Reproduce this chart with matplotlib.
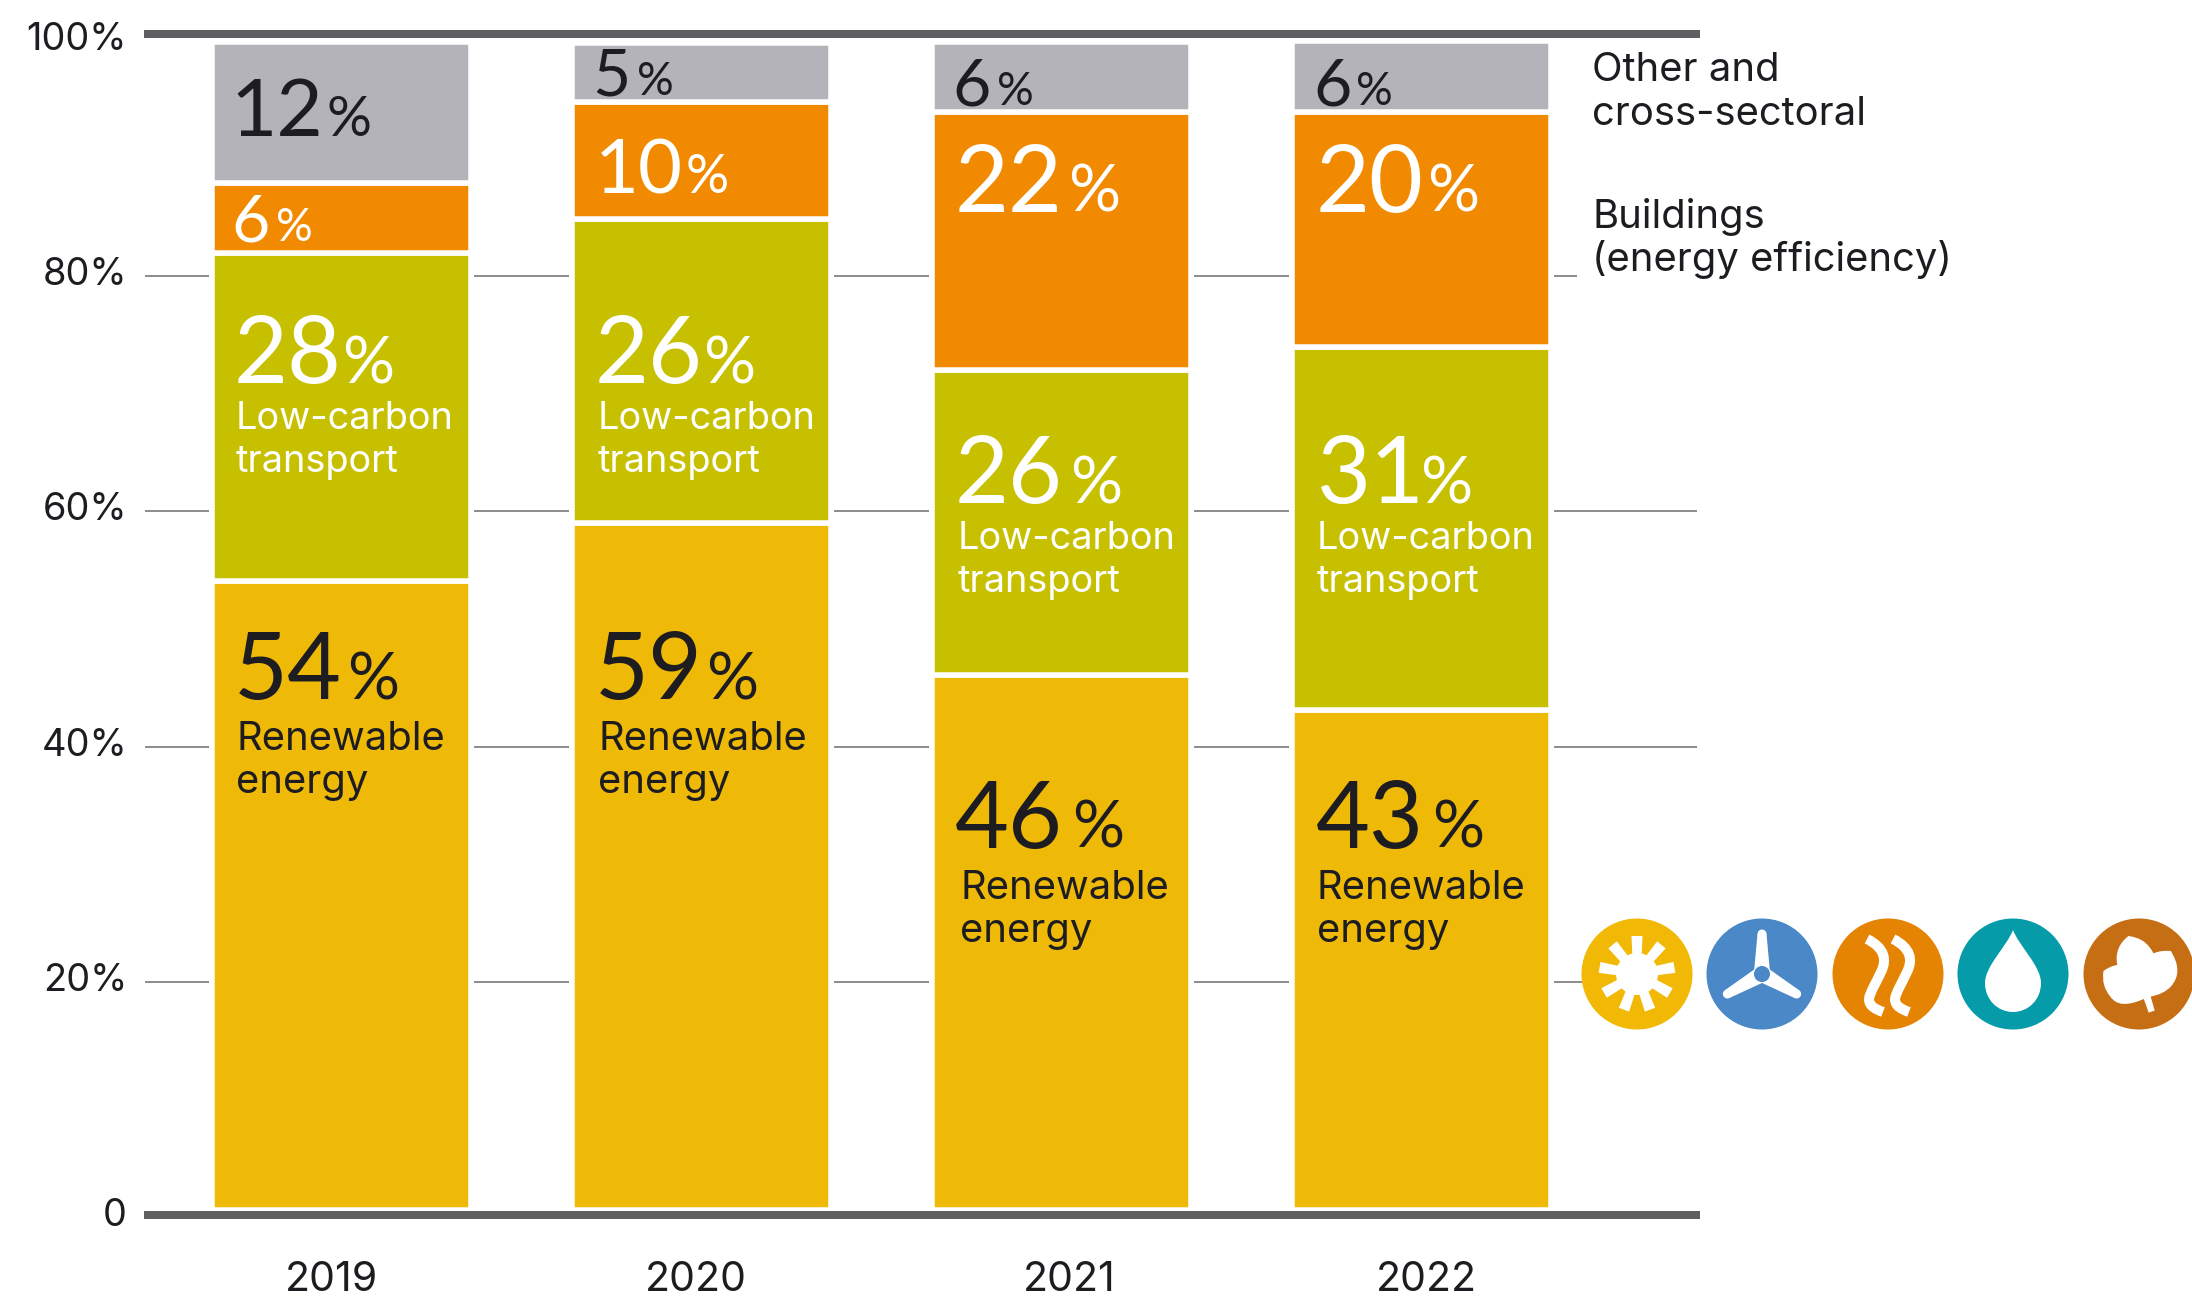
import numpy as np
import matplotlib
matplotlib.use('Agg')
import matplotlib.pyplot as plt
from matplotlib.patches import Circle, Polygon, PathPatch
from matplotlib.path import Path
from matplotlib.transforms import ScaledTranslation

# Data: segment heights, labels as printed
years = ['2019', '2020', '2021', '2022']
renewable = [53.5, 58.4, 45.5, 42.5]
transport = [27.9, 25.9, 25.9, 30.9]
buildings = [5.95, 9.95, 22.0, 20.0]
other = [12.0, 5.0, 5.95, 6.0]

renewable_labels = ['54', '59', '46', '43']
transport_labels = ['28', '26', '26', '31']
buildings_labels = ['6', '10', '22', '20']
other_labels = ['12', '5', '6', '6']

y_ticks = [0, 20, 40, 60, 80, 100]
y_tick_labels = ['0', '20%', '40%', '60%', '80%', '100%']

# Colours
YELLOW = '#EFB908'
GREEN = '#C7C000'
ORANGE = '#F18A00'
GREY = '#B5B3BA'
LINE = '#5F5F61'
INK = '#1D1C20'

W, H = 2192, 1297
PX = 0.72  # px to pt at dpi 100
plt.rcParams['font.family'] = ['Inter', 'DejaVu Sans']

fig = plt.figure(figsize=(W / 100, H / 100), dpi=100)

# Main axes: 0 sits at y=1217 px, 11.76 px per percent
ax_left, ax_right, ax_bottom, ax_top = 144, 1700, 1217, 34
ax = fig.add_axes([ax_left / W, 1 - ax_bottom / H, (ax_right - ax_left) / W, (ax_bottom - ax_top) / H])
ax.set_xlim((ax_left - 341.5) / 360, (ax_right - 341.5) / 360)
ax.set_ylim(0, (ax_bottom - ax_top) / 11.76)
ax.patch.set_alpha(0)
for s in ax.spines.values():
    s.set_visible(False)

x = np.arange(4)
bar_w = 258.5 / 360
base = np.full(4, 0.6)
for vals, col in [(renewable, YELLOW), (transport, GREEN), (buildings, ORANGE), (other, GREY)]:
    ax.bar(x, vals, bottom=base, width=bar_w, color=col, edgecolor='white', linewidth=5.5 * PX, zorder=3)
    base = base + np.array(vals)

# Top and bottom rules
ax.axhline(0.17, color=LINE, lw=8 * PX, clip_on=False, zorder=4, solid_capstyle='butt')
ax.axhline(100.6, color=LINE, lw=8 * PX, clip_on=False, zorder=4, solid_capstyle='butt')

# Thin grid pieces only in the gaps between the bars
gap = 6 / 360
for t in y_ticks[1:-1]:
    ax.hlines(t, (145 - 341.5) / 360, -0.352 - gap, color='#6A6A6A', lw=1.5 * PX, zorder=1)
    for i in range(3):
        ax.hlines(t, i + 0.352 + gap, i + 1 - 0.352 - gap, color='#6A6A6A', lw=1.5 * PX, zorder=1)
    if t == 80:
        right = (1577 - 341.5) / 360
    elif t == 20:
        right = (1673 - 341.5) / 360
    else:
        right = (1697 - 341.5) / 360
    ax.hlines(t, 3 + 0.352 + gap, right, color='#6A6A6A', lw=1.5 * PX, zorder=1)

ax.set_yticks(y_ticks, y_tick_labels, fontsize=38 * PX, color=INK)
ax.tick_params(axis='y', length=0, pad=17 * PX)
# labels sit a little above their grid lines
shift = ScaledTranslation(0, 5 / 100, fig.dpi_scale_trans)
for lab in ax.get_yticklabels():
    lab.set_transform(lab.get_transform() + shift)

year_x = [331, 696, 1069, 1426]
ax.set_xticks([(v - 341.5) / 360 for v in year_x], years, fontsize=41 * PX, color=INK)
ax.tick_params(axis='x', length=0, pad=44 * PX)

# Pixel overlay for the hand placed labels and the icons
pix = fig.add_axes([0, 0, 1, 1])
pix.set_xlim(0, W)
pix.set_ylim(H, 0)
pix.axis('off')
pix.patch.set_alpha(0)


def number(xp, yp, txt, col, size, psize, g=8):
    t = pix.text(xp, yp, txt, color=col, fontsize=size * PX, family=['Lato', 'DejaVu Sans'], va='baseline')
    pix.annotate('%', xy=(1, yp), xycoords=(t, 'data'), xytext=(g, 0), textcoords='offset pixels',
                 color=col, fontsize=psize * PX, family=['Lato', 'DejaVu Sans'], va='baseline')


BIG, BIG_P = 93, 65
SMALL, SMALL_P = 66, 46
digit_x = [234, 595, 955, 1316]

other_y = [136, 95, 105, 105]
other_size = [(80, 56), (SMALL, SMALL_P), (SMALL, SMALL_P), (SMALL, SMALL_P)]
other_dx = [-4, -3, -3, -3]
other_g = [4, 7, 7, 5]

buildings_y = [241, 193, 212, 212]
buildings_size = [(SMALL, SMALL_P), (76, 54), (BIG, BIG_P), (BIG, BIG_P)]
buildings_dx = [-3, 0, 0, 0]
buildings_g = [7, 3, 5, 3]

transport_y = [383, 383, 503, 503]
transport_g = [0, 0, 7, -4]

renewable_y = [699, 699, 848, 848]
renewable_g = [5, 3, 9, 8]

for i in range(4):
    number(digit_x[i] + other_dx[i], other_y[i], other_labels[i], INK, *other_size[i], g=other_g[i])
    number(digit_x[i] + buildings_dx[i], buildings_y[i], buildings_labels[i], 'white', *buildings_size[i],
           g=buildings_g[i])
    number(digit_x[i], transport_y[i], transport_labels[i], 'white', BIG, BIG_P, g=transport_g[i])
    number(digit_x[i], renewable_y[i], renewable_labels[i], INK, BIG, BIG_P, g=renewable_g[i])

    # Category names inside the bars
    lx = [236, 598, 958, 1317][i]
    pix.text(lx, transport_y[i] + 46, 'Low-carbon', color='white', fontsize=38 * PX, va='baseline')
    pix.text(lx, transport_y[i] + 89, 'transport', color='white', fontsize=38 * PX, va='baseline')
    rx = [236, 598, 960, 1317][i]
    pix.text(rx, renewable_y[i] + 51, 'Renewable', color=INK, fontsize=40 * PX, va='baseline')
    pix.text(rx, renewable_y[i] + 94, 'energy', color=INK, fontsize=40 * PX, va='baseline')

# Right hand legend text
for yp, s in [(81, 'Other and'), (125, 'cross-sectoral'), (228, 'Buildings'), (271, '(energy efficiency)')]:
    pix.text(1592, yp, s, color=INK, fontsize=40 * PX, va='baseline')

# Icons
centres = [1637, 1762, 1888, 2013, 2139]
cy = 974
R = 55.5
icon_cols = ['#F1B805', '#4B88C7', '#E58403', '#059BA8', '#C56E13']
for cx, c in zip(centres, icon_cols):
    pix.add_patch(Circle((cx, cy), R, fc=c, ec='none', zorder=5))

# Sun
cx = centres[0]
pix.add_patch(Circle((cx, cy), 21, fc='white', ec='none', zorder=6))
for k in range(9):
    a = np.deg2rad(40 * k)
    u = np.array([np.sin(a), -np.cos(a)])
    v = np.array([u[1], -u[0]])
    pts = [u * 15 + v * 4.5, u * 38 + v * 5.5, u * 38 - v * 5.5, u * 15 - v * 4.5]
    pix.add_patch(Polygon(np.array(pts) + [cx, cy], fc='white', ec='none', zorder=6))

# Turbine
cx = centres[1]
for deg in [0, 120, 240]:
    a = np.deg2rad(deg)
    u = np.array([np.sin(a), -np.cos(a)])
    v = np.array([u[1], -u[0]])
    pts = [u * 2 + v * 8, u * 40 + v * 4.5, u * 40 - v * 4.5, u * 2 - v * 8]
    pix.add_patch(Polygon(np.array(pts) + [cx, cy], fc='white', ec='none', zorder=6))
    pix.add_patch(Circle(u * 40 + [cx, cy], 4.5, fc='white', ec='none', zorder=6))
pix.add_patch(Circle((cx, cy), 8, fc=icon_cols[1], ec='white', lw=0, zorder=7))

# Heat waves
cx = centres[2]
for dx in [-13, 13]:
    verts = [(-8, -35), (10, -26), (12, -14), (6, -2), (1, 9), (-5, 18), (-6, 25), (-6, 32), (0, 35), (8, 38)]
    verts = [(cx + dx + p[0], cy + p[1]) for p in verts]
    codes = [Path.MOVETO] + [Path.CURVE4] * 9
    pix.add_patch(PathPatch(Path(verts, codes), fc='none', ec='white', lw=10 * PX, capstyle='butt', zorder=6))

# Drop
cx = centres[3]
verts = [(0, -44), (6, -28), (28, -8), (28, 9), (28, 26), (15, 38), (0, 38), (-15, 38), (-28, 26), (-28, 9),
         (-28, -8), (-6, -28), (0, -44), (0, -44)]
codes = [Path.MOVETO] + [Path.CURVE4] * 12 + [Path.CLOSEPOLY]
pix.add_patch(PathPatch(Path([(cx + a, cy + b) for a, b in verts], codes), fc='white', ec='none', zorder=6))

# Leaf
cx = centres[4]
verts = [(-10.5, -38), (7, -36), (14.5, -20.6), (22, -24), (31.8, -23), (45, -2), (31.8, 12.6), (25, 20), (11.7, 22.6),
         (15.7, 36.6), (9.7, 38.6), (4.8, 25), (-20, 36), (-28.6, 22.6), (-38, 12), (-35.5, -3), (-29, -8), (-21.8, -9),
         (-25, -27), (-10.5, -38), (-10.5, -38)]
C3, LT = Path.CURVE3, Path.LINETO
codes = [Path.MOVETO, C3, C3, C3, C3, C3, C3, C3, C3, LT, LT, LT, C3, C3, C3, C3, C3, C3, C3, C3, Path.CLOSEPOLY]
pix.add_patch(PathPatch(Path([(cx + a, cy + b) for a, b in verts], codes), fc='white', ec='none', zorder=6))

fig.savefig('out.png', dpi=100)
